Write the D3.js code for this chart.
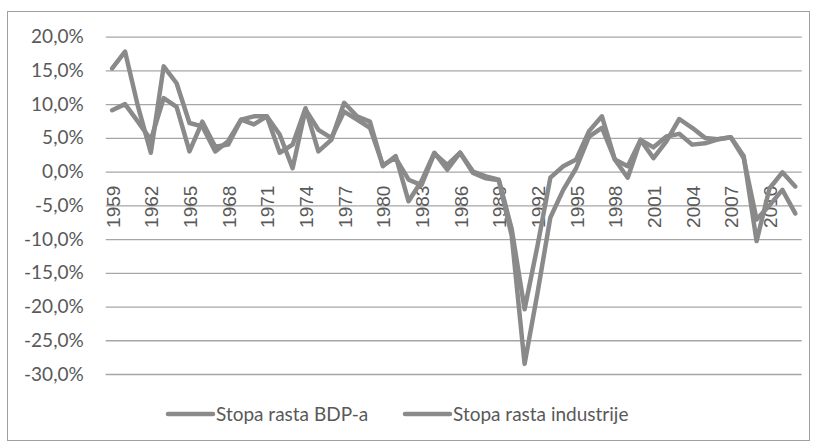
<!DOCTYPE html>
<html>
<head>
<meta charset="utf-8">
<script src="https://cdn.jsdelivr.net/npm/d3@7"></script>
<style>
  body { margin: 0; background: #fff; }
  svg { display: block; }
</style>
</head>
<body>
<script>
// categories and series values (percent)
const years = d3.range(1959, 2013);

const industrija = [15.3, 17.8, 9.7, 2.8, 15.6, 13.1, 7.2, 6.7, 3.0, 4.5,
  7.7, 7.0, 8.2, 2.8, 4.0, 9.4, 3.0, 4.7, 10.2, 8.2,
  7.4, 0.8, 2.3, -4.4, -1.4, 2.8, 0.3, 2.8, 0.0, -0.7,
  -1.2, -8.5, -20.4, -11.0, -0.9, 0.8, 1.8, 6.0, 8.2, 1.8,
  -0.9, 4.7, 2.0, 4.5, 7.8, 6.5, 5.0, 4.8, 5.1, 2.3,
  -10.3, -2.5, -0.1, -2.2];

const bdp = [9.1, 10.0, 7.4, 4.7, 10.9, 9.6, 3.0, 7.4, 3.7, 4.0,
  7.7, 8.2, 8.2, 5.5, 0.5, 9.2, 6.2, 5.0, 8.9, 7.7,
  6.5, 1.0, 2.0, -1.2, -2.0, 2.7, 1.0, 2.8, -0.2, -1.0,
  -1.3, -9.5, -28.5, -18.0, -6.8, -2.7, 0.5, 5.2, 6.5, 1.8,
  0.8, 4.7, 3.6, 5.2, 5.6, 4.0, 4.2, 4.8, 5.1, 2.0,
  -7.1, -5.0, -2.7, -6.2];

const yTicks = [20, 15, 10, 5, 0, -5, -10, -15, -20, -25, -30];
const xTicks = [1959, 1962, 1965, 1968, 1971, 1974, 1977, 1980, 1983, 1986,
  1989, 1992, 1995, 1998, 2001, 2004, 2007, 2010];

const seriesNames = ["Stopa rasta BDP-a", "Stopa rasta industrije"];

const W = 816, H = 448;
const lineColor = "#8a8a8a", gridColor = "#a6a6a6", textColor = "#595959";

const svg = d3.select("body").append("svg")
  .attr("width", W)
  .attr("height", H);

// chart border
svg.append("rect")
  .attr("x", 7.5).attr("y", 11.5)
  .attr("width", 802).attr("height", 429)
  .attr("fill", "#fff")
  .attr("stroke", "#a0a0a0")
  .attr("stroke-width", 1);

const x = d3.scaleBand().domain(years).range([105.7, 801.7]).padding(0);
const y = d3.scaleLinear().domain([-30, 20]).range([374, 36.7]);

const loc = d3.formatLocale({ decimal: ",", thousands: ".", grouping: [3], currency: ["", ""], minus: "-" });
const fmt = loc.format(".1f");

// gridlines + y labels
const yAxis = svg.append("g")
  .attr("transform", "translate(105.7,0)")
  .call(d3.axisLeft(y).tickValues(yTicks)
    .tickSize(-(801.7 - 105.7))
    .tickPadding(22)
    .tickFormat(d => fmt(d) + "%"));
yAxis.select(".domain").remove();
yAxis.selectAll(".tick line")
  .attr("stroke", gridColor)
  .attr("stroke-width", 1.3);
yAxis.selectAll(".tick text")
  .attr("fill", textColor)
  .attr("font-family", "Lato, sans-serif")
  .attr("font-size", "19px");

// x axis labels at 0%
const xAxis = svg.append("g")
  .attr("transform", "translate(0," + y(0) + ")")
  .call(d3.axisBottom(x).tickValues(xTicks).tickSize(0));
xAxis.select(".domain").remove();
xAxis.selectAll(".tick text")
  .attr("fill", textColor)
  .attr("font-family", "'Liberation Sans', Arial, sans-serif")
  .attr("font-size", "19px")
  .attr("text-anchor", "end")
  .attr("dominant-baseline", "central")
  .attr("transform", "translate(1,14) rotate(-90)")
  .attr("x", 0).attr("y", 0).attr("dy", null);

// lines
const line = d3.line()
  .x((d, i) => x(years[i]) + x.bandwidth() / 2)
  .y(d => y(d));

[bdp, industrija].forEach(s => {
  svg.append("path")
    .datum(s)
    .attr("fill", "none")
    .attr("stroke", lineColor)
    .attr("stroke-width", 4.5)
    .attr("stroke-linejoin", "round")
    .attr("stroke-linecap", "round")
    .attr("d", line);
});

// legend
const legendX = [168, 405];
seriesNames.forEach((name, i) => {
  const g = svg.append("g").attr("transform", "translate(" + legendX[i] + ",414)");
  g.append("line")
    .attr("x1", 0).attr("x2", 45)
    .attr("stroke", lineColor)
    .attr("stroke-width", 4.5)
    .attr("stroke-linecap", "round");
  g.append("text")
    .attr("x", 48)
    .attr("dy", "0.35em")
    .attr("fill", textColor)
    .attr("font-family", "Lato, sans-serif")
    .attr("font-size", "19px")
    .text(name);
});
</script>
</body>
</html>
